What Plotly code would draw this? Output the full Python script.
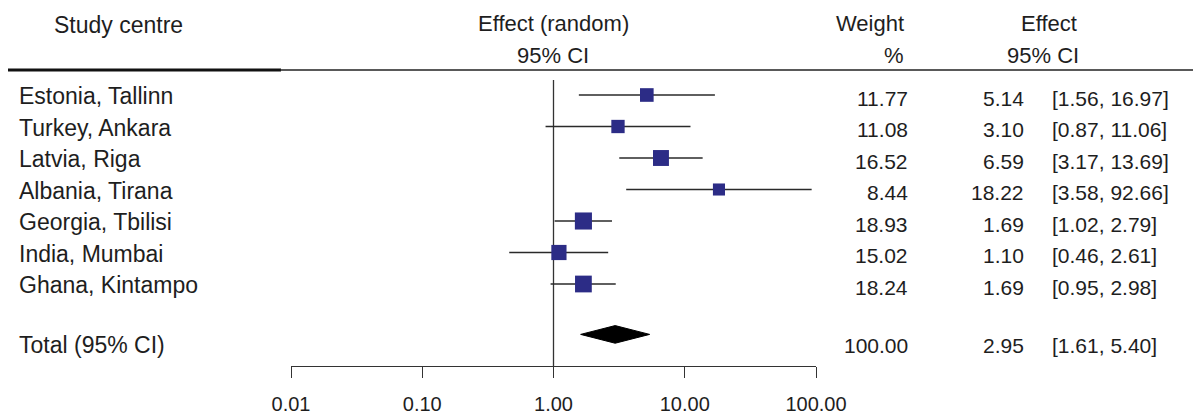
import plotly.graph_objects as go

# ---------------- data ----------------
centres = ["Estonia, Tallinn", "Turkey, Ankara", "Latvia, Riga", "Albania, Tirana",
           "Georgia, Tbilisi", "India, Mumbai", "Ghana, Kintampo"]
effect = [5.14, 3.10, 6.59, 18.22, 1.69, 1.10, 1.69]
ci_low = [1.56, 0.87, 3.17, 3.58, 1.02, 0.46, 0.95]
ci_high = [16.97, 11.06, 13.69, 92.66, 2.79, 2.61, 2.98]
weight = [11.77, 11.08, 16.52, 8.44, 18.93, 15.02, 18.24]

total_label = "Total (95% CI)"
total_effect = 2.95
total_low = 1.61
total_high = 5.40
total_weight = 100.00

tick_vals = [0.01, 0.1, 1, 10, 100]
tick_text = ["0.01", "0.10", "1.00", "10.00", "100.00"]

# ---------------- layout helpers ----------------
W, H = 1201, 420
OX, OY = 8, 8          # page body margin offset
ROW0_PX, ROW_STEP = 95, 31.5
rows = list(range(len(centres)))
total_row = 7.6

def py(px):
    """reference pixel row -> row units"""
    return (px - ROW0_PX) / ROW_STEP

def pxx(px):
    """reference pixel column -> paper x"""
    return (px - OX) / W

LABEL_FONT = "Liberation Sans, Arial, sans-serif"
NUM_FONT = "Liberation Sans Narrow, Arial Narrow, Liberation Sans, Arial, sans-serif"
TXT = "#1e1e1e"
MARK = "#2c2c86"

fig = go.Figure()

# reference line at 1
fig.add_trace(go.Scatter(x=[1, 1], y=[py(80), py(366)], mode="lines",
                         line=dict(color="#333333", width=1.3), hoverinfo="skip", showlegend=False))

# CI lines
cx, cy = [], []
for i, (lo, hi) in enumerate(zip(ci_low, ci_high)):
    cx += [lo, hi, None]
    cy += [i, i, None]
fig.add_trace(go.Scatter(x=cx, y=cy, mode="lines", line=dict(color="#2a2a2a", width=1.4),
                         hoverinfo="skip", showlegend=False))

# squares sized by weight
fig.add_trace(go.Scatter(x=effect, y=rows, mode="markers",
                         marker=dict(symbol="square", color=MARK, opacity=1,
                                     size=[8 + 0.48 * w for w in weight],
                                     line=dict(width=0)),
                         showlegend=False))

# diamond for total
hd = 0.28
fig.add_trace(go.Scatter(x=[total_low, total_effect, total_high, total_effect, total_low],
                         y=[total_row, total_row - hd, total_row, total_row + hd, total_row],
                         mode="lines", fill="toself", fillcolor="#000000",
                         line=dict(color="#000000", width=1), hoverinfo="skip", showlegend=False))

# ---------------- annotations (text columns) ----------------
ann = []

def add(text, x_px, y, anchor, font, size, yshift=0):
    ann.append(dict(text=text, x=pxx(x_px), xref="paper", y=y, yref="y",
                    xanchor=anchor, yanchor="middle", showarrow=False, yshift=yshift,
                    font=dict(family=font, size=size, color=TXT)))

LS = 23   # label size
NS = 21   # number size
HS = 22   # header size

# headers
add("Study centre", 118, py(25), "center", LABEL_FONT, LS)
add("Effect (random)", 553, py(23), "center", NUM_FONT, HS)
add("95% CI", 553, py(55), "center", NUM_FONT, HS)
add("Weight", 906, py(23), "right", NUM_FONT, HS)
add("%", 906, py(55), "right", NUM_FONT, HS)
add("Effect", 1049, py(23), "center", NUM_FONT, HS)
add("95% CI", 1043, py(55), "center", NUM_FONT, HS)

# study rows
for i, name in enumerate(centres):
    add(name, 17, i, "left", LABEL_FONT, LS, yshift=-1)
    add(f"{weight[i]:.2f}", 910, i, "right", NUM_FONT, NS, yshift=-3)
    add(f"{effect[i]:.2f}", 1026, i, "right", NUM_FONT, NS, yshift=-3)
    add(f"[{ci_low[i]:.2f}, {ci_high[i]:.2f}]", 1050, i, "left", NUM_FONT, NS, yshift=-3)

# total row
add(total_label, 17, total_row, "left", LABEL_FONT, LS, yshift=-11)
add(f"{total_weight:.2f}", 910, total_row, "right", NUM_FONT, NS, yshift=-11)
add(f"{total_effect:.2f}", 1026, total_row, "right", NUM_FONT, NS, yshift=-11)
add(f"[{total_low:.2f}, {total_high:.2f}]", 1050, total_row, "left", NUM_FONT, NS, yshift=-11)

# header rule: thick part then thin part
shapes = [
    dict(type="line", xref="paper", yref="y", x0=pxx(8), x1=pxx(281),
         y0=py(70), y1=py(70), line=dict(color="#111111", width=3)),
    dict(type="line", xref="paper", yref="y", x0=pxx(280), x1=1,
         y0=py(70), y1=py(70), line=dict(color="#222222", width=1.6)),
]

fig.update_layout(
    width=W, height=H,
    margin=dict(l=0, r=0, t=0, b=0, autoexpand=False),
    paper_bgcolor="white", plot_bgcolor="white",
    showlegend=False,
    annotations=ann,
    shapes=shapes,
    xaxis=dict(type="log", range=[-2, 2], domain=[pxx(291), pxx(816)],
               anchor="free", position=1 - (366 - OY) / H, automargin=False,
               showline=True, linecolor="#333333", linewidth=1.4,
               ticks="outside", ticklen=11, tickwidth=1.3, tickcolor="#333333",
               tickvals=tick_vals, ticktext=tick_text, ticklabelstandoff=9,
               tickfont=dict(family=NUM_FONT, size=20, color=TXT),
               showgrid=False, zeroline=False),
    yaxis=dict(range=[py(H + OY), py(OY)], domain=[0, 1], visible=False,
               showgrid=False, zeroline=False, automargin=False),
)

fig.write_html("out.html")
